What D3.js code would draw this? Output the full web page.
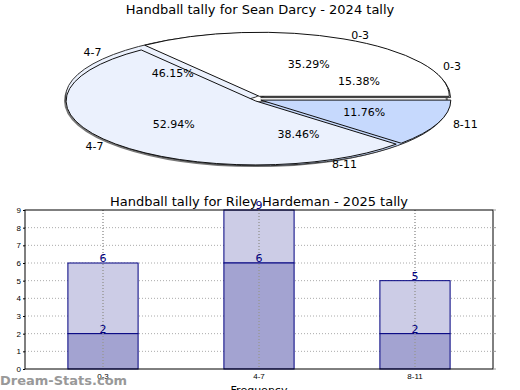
<!DOCTYPE html>
<html>
<head>
<meta charset="utf-8">
<script src="https://cdn.jsdelivr.net/npm/d3@7"></script>
<style>
  body { margin: 0; background: #fff; }
  svg { display: block; font-family: "DejaVu Sans", sans-serif; }
</style>
</head>
<body>
<div id="chart"></div>
<script>
// pie data (two tallies overlaid)
const pieCategories = ["0-3", "4-7", "8-11"];
const pieValuesTop = [6, 9, 2];     // 35.29%, 52.94%, 11.76%
const pieValuesUnder = [2, 6, 5];   // 15.38%, 46.15%, 38.46%
const pieColors = ["#ffffff", "#ebf1fd", "#c6d9fd"];

// bar data (stacked)
const barCategories = ["0-3", "4-7", "8-11"];
const barLower = [2, 6, 2];
const barUpper = [4, 3, 3];
const yTicks = [0, 1, 2, 3, 4, 5, 6, 7, 8, 9];

const W = 520, H = 390;
const svg = d3.select("#chart").append("svg")
  .attr("width", W).attr("height", H);

// ---------- pie ----------
svg.append("text")
  .attr("x", 260).attr("y", 14)
  .attr("text-anchor", "middle")
  .style("font-size", "13px")
  .text("Handball tally for Sean Darcy - 2024 tally");

const cx = 258, cy = 99, rx = 190, ry = 64;
const explode = 3;

// start at 3 o'clock, go counter-clockwise
const pie = d3.pie().sort(null)
  .startAngle(Math.PI / 2)
  .endAngle(Math.PI / 2 - 2 * Math.PI);
const arc = d3.arc().innerRadius(0).outerRadius(1);

const drawPie = (values, strokeCol) => {
  const total = d3.sum(values);
  const arcs = pie(values);
  const g = svg.append("g");
  arcs.forEach((a, i) => {
    const mid = (a.startAngle + a.endAngle) / 2;
    const dx = Math.sin(mid) * explode;
    const dy = -Math.cos(mid) * explode;
    g.append("path")
      .attr("d", arc(a))
      .attr("transform", `translate(${cx + dx},${cy + dy}) scale(${rx},${ry})`)
      .attr("fill", pieColors[i])
      .attr("stroke", strokeCol)
      .attr("stroke-width", 1)
      .attr("vector-effect", "non-scaling-stroke");
  });
  return arcs.map((a, i) => ({a, i, pct: values[i] / total * 100}));
};

const labelPie = (items) => {
  items.forEach(({a, i, pct}) => {
    const mid = (a.startAngle + a.endAngle) / 2;
    const ux = Math.sin(mid), uy = -Math.cos(mid);
    svg.append("text")
      .attr("x", cx + ux * rx * 0.6)
      .attr("y", cy + uy * ry * 0.6)
      .attr("text-anchor", "middle")
      .attr("dominant-baseline", "central")
      .style("font-size", "11px")
      .text(pct.toFixed(2) + "%");
    svg.append("text")
      .attr("x", cx + ux * rx * 1.1)
      .attr("y", cy + uy * ry * 1.1)
      .attr("text-anchor", ux > 0 ? "start" : "end")
      .attr("dominant-baseline", "central")
      .style("font-size", "11px")
      .text(pieCategories[i]);
  });
};

// shadow ring
svg.append("ellipse")
  .attr("cx", cx - 2).attr("cy", cy + 2)
  .attr("rx", rx + 1).attr("ry", ry + 1)
  .attr("fill", "none").attr("stroke", "#777").attr("stroke-width", 2);

const underItems = drawPie(pieValuesUnder, "#333");
const topItems = drawPie(pieValuesTop, "#111");
labelPie(underItems);
labelPie(topItems);

// ---------- stacked bars ----------
const m = {left: 25, right: 493, top: 210, bottom: 369};

svg.append("text")
  .attr("x", 259).attr("y", 206)
  .attr("text-anchor", "middle")
  .style("font-size", "13px")
  .text("Handball tally for Riley Hardeman - 2025 tally");

const x = d3.scaleBand()
  .domain(barCategories)
  .range([m.left, m.right])
  .padding(0);
const y = d3.scaleLinear()
  .domain([0, 9])
  .range([m.bottom, m.top]);
const barW = x.bandwidth() * 0.45;

// grid
svg.append("g").selectAll("line")
  .data(yTicks.slice(1, -1))
  .join("line")
  .attr("x1", m.left).attr("x2", m.right)
  .attr("y1", d => y(d)).attr("y2", d => y(d))
  .attr("stroke", "#aaa").attr("stroke-dasharray", "1,2");

const stack = barCategories.map((c, i) => ({
  cat: c, lower: barLower[i], total: barLower[i] + barUpper[i]
}));

const bars = svg.append("g");
bars.selectAll("rect.upper")
  .data(stack)
  .join("rect")
  .attr("class", "upper")
  .attr("x", d => x(d.cat) + (x.bandwidth() - barW) / 2)
  .attr("y", d => y(d.total))
  .attr("width", barW)
  .attr("height", d => y(d.lower) - y(d.total))
  .attr("fill", "#cccce6").attr("stroke", "#000080");
bars.selectAll("rect.lower")
  .data(stack)
  .join("rect")
  .attr("class", "lower")
  .attr("x", d => x(d.cat) + (x.bandwidth() - barW) / 2)
  .attr("y", d => y(d.lower))
  .attr("width", barW)
  .attr("height", d => y(0) - y(d.lower))
  .attr("fill", "#a3a3d1").attr("stroke", "#000080");

// vertical grid on top of bars
svg.append("g").selectAll("line")
  .data(barCategories)
  .join("line")
  .attr("x1", d => x(d) + x.bandwidth() / 2).attr("x2", d => x(d) + x.bandwidth() / 2)
  .attr("y1", m.top).attr("y2", m.bottom)
  .attr("stroke", "#999").attr("stroke-dasharray", "1,2").attr("stroke-width", 1.5);

// value labels
const vals = stack.flatMap(d => [{cat: d.cat, v: d.lower}, {cat: d.cat, v: d.total}]);
svg.append("g").selectAll("text")
  .data(vals)
  .join("text")
  .attr("x", d => x(d.cat) + x.bandwidth() / 2)
  .attr("y", d => y(d.v) - 1)
  .attr("text-anchor", "middle")
  .attr("fill", "#000080")
  .style("font-size", "11px")
  .text(d => d.v);

// frame
svg.append("rect")
  .attr("x", m.left).attr("y", m.top)
  .attr("width", m.right - m.left).attr("height", m.bottom - m.top)
  .attr("fill", "none").attr("stroke", "#000");

// y axis ticks
const yAxis = svg.append("g").attr("transform", `translate(${m.left},0)`)
  .call(d3.axisLeft(y).tickValues(yTicks).tickSize(2).tickFormat(d3.format("d")));
yAxis.select(".domain").remove();
yAxis.selectAll("text").style("font-size", "8px").attr("dx", "1");
svg.append("g").selectAll("line")
  .data(yTicks)
  .join("line")
  .attr("x1", m.right).attr("x2", m.right + 3)
  .attr("y1", d => y(d)).attr("y2", d => y(d))
  .attr("stroke", "#999");

// x axis labels
const xAxis = svg.append("g").attr("transform", `translate(0,${m.bottom})`)
  .call(d3.axisBottom(x).tickSize(0).tickPadding(4));
xAxis.select(".domain").remove();
xAxis.selectAll("text").style("font-size", "8px");

svg.append("text")
  .attr("x", 259).attr("y", 394)
  .attr("text-anchor", "middle")
  .style("font-size", "11px")
  .text("Frequency");

// watermark
svg.append("text")
  .attr("x", 0).attr("y", 385)
  .attr("fill", "#999")
  .style("font-size", "13px")
  .style("font-weight", "bold")
  .text("Dream-Stats.com");
</script>
</body>
</html>
